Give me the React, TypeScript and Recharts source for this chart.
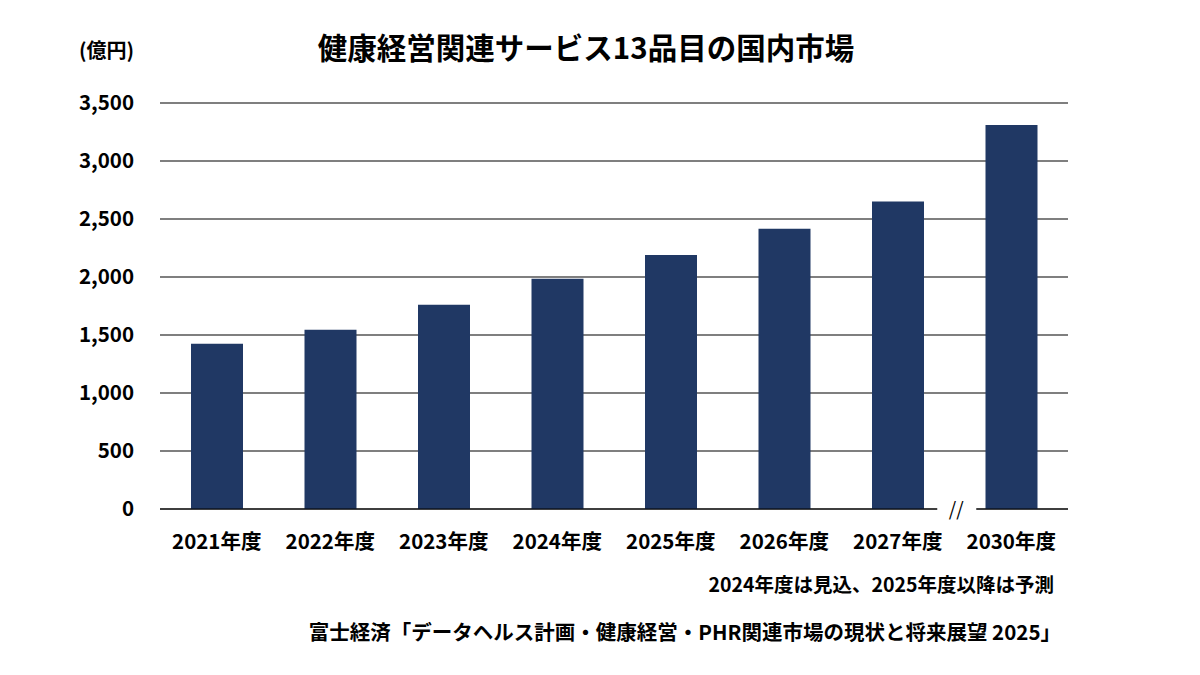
import React from "react";
import { Bar, BarChart, CartesianGrid, XAxis, YAxis } from "recharts";

// Market size, 100 million yen. 2024 is an estimate, 2025+ forecast.
const years = ["2021年度", "2022年度", "2023年度", "2024年度", "2025年度", "2026年度", "2027年度", "2030年度"];
const marketSize = [1425, 1545, 1760, 1985, 2190, 2415, 2650, 3310];
const yTicks = [0, 500, 1000, 1500, 2000, 2500, 3000, 3500];

const data = years.map((year, i) => ({ year, value: marketSize[i] }));

const FONT = "'Noto Sans CJK JP', 'Noto Sans', sans-serif";
const NAVY = "#203864";
const BREAK_BEFORE = "2030年度";

// Bottom tick: the label, plus the "//" break in the baseline before 2030.
function YearTick({ x, y, payload }: { x?: number; y?: number; payload?: { value: string } }) {
  const cx = x ?? 0;
  const cy = y ?? 0;
  const label = payload?.value ?? "";
  return (
    <g>
      {label === BREAK_BEFORE && (
        <g>
          <rect x={cx - 74} y={cy - 3} width={39} height={6} fill="#fff" />
          <text x={cx - 55} y={cy + 7} textAnchor="middle" fontSize={19} fill="#000" fontFamily={FONT}>
            //
          </text>
        </g>
      )}
      <text x={cx} y={cy + 40} textAnchor="middle" fontSize={20.5} fontWeight={700} fill="#000" fontFamily={FONT}>
        {label}
      </text>
    </g>
  );
}

export default function App() {
  return (
    <div style={{ position: "absolute", left: 0, top: 0, width: 1200, height: 675, background: "#fff", fontFamily: FONT }}>
      <BarChart
        width={1200}
        height={675}
        data={data}
        margin={{ top: 103, right: 132, bottom: 136, left: 100 }}
        style={{ fontFamily: FONT }}
      >
        <CartesianGrid vertical={false} stroke="#000" strokeWidth={1.2} />
        <XAxis
          dataKey="year"
          height={30}
          axisLine={{ stroke: "#000", strokeWidth: 1.2 }}
          tickLine={false}
          tickSize={0}
          tickMargin={0}
          interval={0}
          tick={<YearTick />}
        />
        <YAxis
          width={60}
          domain={[0, 3500]}
          ticks={yTicks}
          interval={0}
          axisLine={false}
          tickLine={false}
          tickSize={0}
          tickMargin={26}
          tickFormatter={(v: number) => v.toLocaleString("en-US")}
          tick={{ fill: "#000", fontSize: 20.5, fontWeight: 700 }}
        />
        <Bar dataKey="value" fill={NAVY} barSize={52} isAnimationActive={false} />
      </BarChart>
      <svg
        width={1200}
        height={675}
        style={{ position: "absolute", left: 0, top: 0, pointerEvents: "none", fontFamily: FONT }}
      >
        <text x={586} y={59} textAnchor="middle" fontSize={29.5} fontWeight={700} fill="#000">
          健康経営関連サービス13品目の国内市場
        </text>
        <text x={79} y={58} fontSize={20} fontWeight={700} fill="#000">
          (億円)
        </text>
        <text x={1054} y={592} textAnchor="end" fontSize={19.5} fontWeight={700} fill="#000">
          2024年度は見込、2025年度以降は予測
        </text>
        <text x={1061} y={640} textAnchor="end" fontSize={20.5} fontWeight={700} fill="#000">
          富士経済「データヘルス計画・健康経営・PHR関連市場の現状と将来展望 2025」
        </text>
      </svg>
    </div>
  );
}
